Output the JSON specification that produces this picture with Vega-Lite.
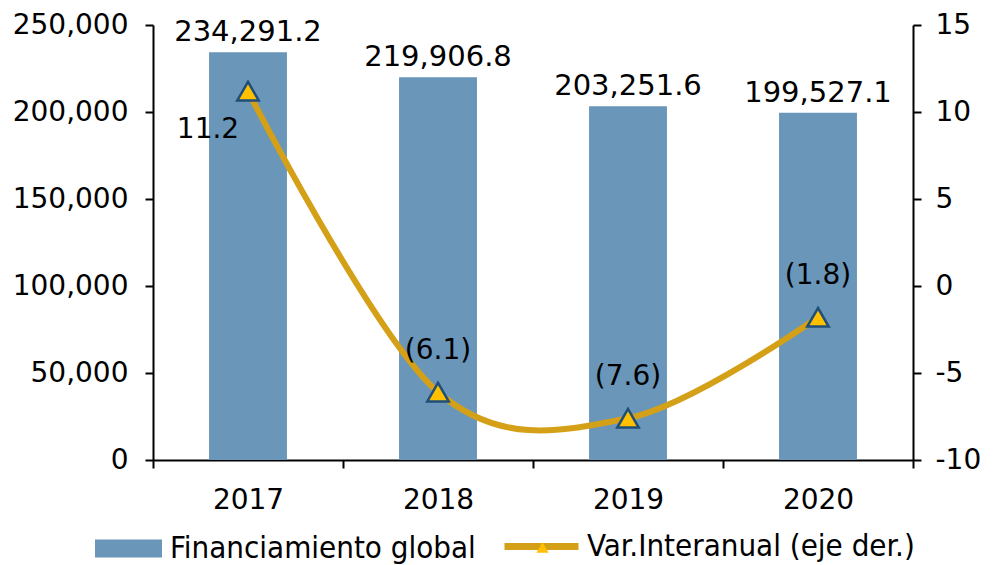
{
  "$schema": "https://vega.github.io/schema/vega-lite/v6.json",
  "width": 760,
  "height": 435,
  "autosize": {"type": "none"},
  "padding": {"left": 153, "top": 25, "right": 81, "bottom": 105},
  "background": "white",
  "config": {
    "view": {"stroke": null},
    "font": "DejaVu Sans",
    "axis": {
      "labelFont": "DejaVu Sans",
      "labelFontSize": 28,
      "labelColor": "#000000",
      "domainColor": "#000000",
      "tickColor": "#000000",
      "domainWidth": 2,
      "tickWidth": 2,
      "tickSize": 8,
      "grid": false
    },
    "legend": {
      "labelFont": "DejaVu Sans Condensed",
      "labelFontSize": 31,
      "labelColor": "#000000",
      "labelLimit": 600,
      "padding": 0
    }
  },
  "data": {
    "values": [
      {"anio": "2017", "financiamiento": 234291.2, "var": 11.2},
      {"anio": "2018", "financiamiento": 219906.8, "var": -6.1},
      {"anio": "2019", "financiamiento": 203251.6, "var": -7.6},
      {"anio": "2020", "financiamiento": 199527.1, "var": -1.8}
    ]
  },
  "encoding": {
    "x": {
      "field": "anio",
      "type": "nominal",
      "scale": {"paddingInner": 0, "paddingOuter": 0},
      "axis": {"tickBand": "extent", "labelAngle": 0, "labelPadding": 18, "title": null}
    }
  },
  "layer": [
    {
      "layer": [
        {
          "mark": {"type": "bar", "width": {"band": 0.41}},
          "encoding": {
            "y": {
              "field": "financiamiento",
              "type": "quantitative",
              "scale": {"domain": [0, 250000], "nice": false},
              "axis": {"values": [0, 50000, 100000, 150000, 200000, 250000], "format": ",d", "labelPadding": 17, "title": null}
            },
            "fill": {
              "datum": "Financiamiento global",
              "scale": {"range": ["#6A96BA"]},
              "legend": {
                "orient": "none",
                "legendX": -58,
                "legendY": 490,
                "title": null,
                "symbolType": "M-1,-0.27H1V0.27H-1Z",
                "symbolSize": 4489,
                "symbolStrokeWidth": 0,
                "labelOffset": 8
              }
            }
          }
        },
        {
          "mark": {"type": "text", "dy": -20, "fontSize": 29, "baseline": "middle", "color": "#000000"},
          "encoding": {
            "y": {"field": "financiamiento", "type": "quantitative"},
            "text": {"field": "financiamiento", "type": "quantitative", "format": ",.1f"}
          }
        }
      ]
    },
    {
      "layer": [
        {
          "mark": {"type": "line", "interpolate": "cardinal", "strokeWidth": 6},
          "encoding": {
            "y": {
              "field": "var",
              "type": "quantitative",
              "scale": {"domain": [-10, 15], "nice": false},
              "axis": {"orient": "right", "values": [-10, -5, 0, 5, 10, 15], "labelExpr": "'' + datum.value", "labelPadding": 14, "title": null}
            },
            "stroke": {
              "datum": "Var.Interanual (eje der.)",
              "scale": {"range": ["#D4A017"]},
              "legend": {
                "orient": "none",
                "legendX": 348,
                "legendY": 481,
                "title": null,
                "symbolType": "M-1,0H1",
                "symbolSize": 5476,
                "symbolStrokeWidth": 7,
                "labelOffset": 5
              }
            }
          }
        },
        {
          "mark": {"type": "point", "filled": true, "fill": "#FFC000", "stroke": "#1F4E79", "strokeWidth": 2.5, "size": 460, "opacity": 1},
          "encoding": {
            "y": {"field": "var", "type": "quantitative"},
            "shape": {
              "datum": "marcador",
              "scale": {"range": ["triangle-up"]},
              "legend": {
                "orient": "none",
                "legendX": 374,
                "legendY": 507,
                "title": null,
                "symbolSize": 150,
                "symbolFillColor": "#FFC000",
                "symbolStrokeColor": "#1F4E79",
                "symbolStrokeWidth": 2.5,
                "labelExpr": "''"
              }
            }
          }
        },
        {
          "transform": [{"filter": "datum.anio == '2017'"}],
          "mark": {"type": "text", "dx": -40, "dy": 39, "fontSize": 28, "baseline": "middle", "color": "#000000"},
          "encoding": {
            "y": {"field": "var", "type": "quantitative"},
            "text": {"field": "var", "type": "quantitative", "format": "(.1f"}
          }
        },
        {
          "transform": [{"filter": "datum.anio != '2017'"}],
          "mark": {"type": "text", "dy": -41, "fontSize": 28, "baseline": "middle", "color": "#000000"},
          "encoding": {
            "y": {"field": "var", "type": "quantitative"},
            "text": {"field": "var", "type": "quantitative", "format": "(.1f"}
          }
        }
      ]
    }
  ],
  "resolve": {"scale": {"y": "independent"}}
}
